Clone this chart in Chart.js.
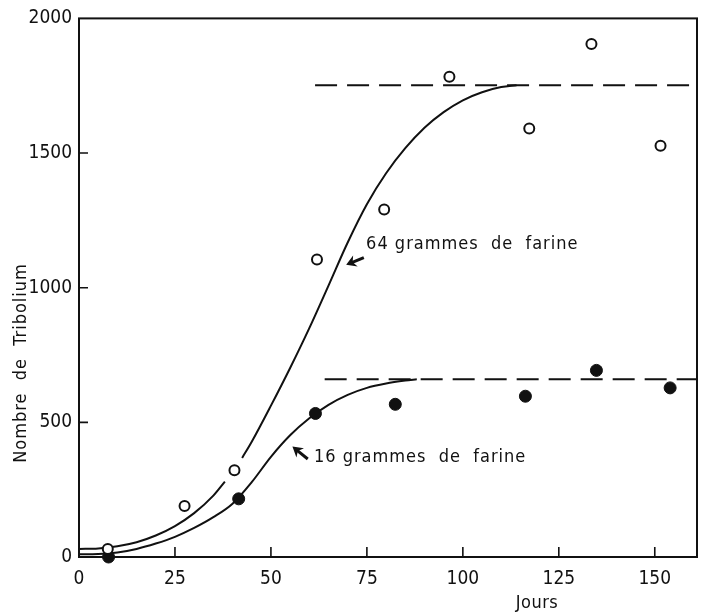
<!DOCTYPE html>
<html lang="fr">
<head>
<meta charset="UTF-8">
<title>Croissance de Tribolium</title>
<script src="https://cdn.jsdelivr.net/npm/chart.js"></script>
<style>
    body {
        margin: 0;
        background: #fff;
    }
    .container {
        width: 704px;
        height: 612px;
    }
</style>
</head>
<body>
<div class="container">
    <canvas id="triboliumChart"></canvas>
</div>
<script>
// Observations (jours, nombre d'individus)
const jours64 = [7.5, 27.5, 40.5, 62, 79.5, 96.5, 117.3, 133.5, 151.5];
const tribolium64 = [30, 189, 322, 1105, 1290, 1783, 1591, 1905, 1527];
const jours16 = [7.7, 41.6, 61.6, 82.4, 116.3, 134.8, 154];
const tribolium16 = [0, 216, 533, 567, 597, 693, 628];

// Courbes ajustées, relevées point par point (null = interruption du trait)
const courbeJours64 = [0, 5, 10, 15, 20, 25, 30, 35, 38, 40, 42.5, 45, 50, 55, 60, 65, 70, 75, 80, 85, 90, 95, 100, 105, 110, 114];
const courbe64 = [30, 32, 40, 55, 80, 115, 163, 228, 280, null, 368, 428, 562, 702, 850, 1008, 1168, 1310, 1425, 1518, 1594, 1652, 1696, 1726, 1745, 1752];
const courbeJours16 = [0, 5, 10, 15, 20, 25, 30, 35, 40, 45, 50, 55, 60, 65, 70, 75, 80, 85, 88];
const courbe16 = [10, 11, 17, 30, 50, 75, 108, 148, 198, 278, 372, 452, 515, 565, 602, 628, 644, 655, 660];

// Asymptotes (tiretés)
const plateau64 = 1752;
const plateau16 = 660;
const plateauJours64 = [61.5, 161];
const plateauJours16 = [64, 161];

const xTicks = [0, 25, 50, 75, 100, 125, 150];
const yTicks = [0, 500, 1000, 1500, 2000];

const police = '"DejaVu Sans Condensed", "Liberation Sans Narrow", "DejaVu Sans", sans-serif';
const encre = '#111';

function pts(xs, ys) {
    return xs.map((x, i) => ({ x: x, y: ys[i] }));
}

// Étiquettes fléchées : pointe de la flèche, queue, début du texte (en unités du graphique)
const etiquettes = [
    { texte: '64 grammes  de  farine', pointe: [69.6, 1085], queue: [74.2, 1112], texteA: [74.8, 1160] },
    { texte: '16 grammes  de  farine', pointe: [55.6, 410], queue: [59.6, 364], texteA: [61.2, 370] }
];

const cadre = {
    id: 'cadre',
    afterDraw(chart) {
        const ctx = chart.ctx;
        const a = chart.chartArea;
        const xs = chart.scales.x, ys = chart.scales.y;
        ctx.save();
        ctx.strokeStyle = encre;
        ctx.lineWidth = 2;
        ctx.strokeRect(a.left, a.top, a.right - a.left, a.bottom - a.top);

        // graduations tournées vers l'intérieur
        ctx.lineWidth = 1.6;
        ctx.beginPath();
        xTicks.slice(1).forEach(v => {
            const px = xs.getPixelForValue(v);
            ctx.moveTo(px, a.bottom);
            ctx.lineTo(px, a.bottom - 10);
        });
        yTicks.slice(1, -1).forEach(v => {
            const py = ys.getPixelForValue(v);
            ctx.moveTo(a.left, py);
            ctx.lineTo(a.left + 9, py);
        });
        ctx.stroke();

        // flèches et textes
        ctx.fillStyle = encre;
        ctx.font = '18px ' + police;
        ctx.letterSpacing = '1px';
        ctx.textBaseline = 'middle';
        etiquettes.forEach(e => {
            const tx = xs.getPixelForValue(e.pointe[0]), ty = ys.getPixelForValue(e.pointe[1]);
            const qx = xs.getPixelForValue(e.queue[0]), qy = ys.getPixelForValue(e.queue[1]);
            const ang = Math.atan2(ty - qy, tx - qx);
            ctx.lineWidth = 3;
            ctx.beginPath();
            ctx.moveTo(qx, qy);
            ctx.lineTo(tx - 6 * Math.cos(ang), ty - 6 * Math.sin(ang));
            ctx.stroke();
            ctx.save();
            ctx.translate(tx, ty);
            ctx.rotate(ang);
            ctx.beginPath();
            ctx.moveTo(0, 0);
            ctx.lineTo(-10, -6);
            ctx.lineTo(-7, 0);
            ctx.lineTo(-10, 6);
            ctx.closePath();
            ctx.fill();
            ctx.restore();
            ctx.fillText(e.texte, xs.getPixelForValue(e.texteA[0]), ys.getPixelForValue(e.texteA[1]));
        });

        // titres des axes
        ctx.textAlign = 'center';
        ctx.letterSpacing = '0.5px';
        ctx.fillText('Jours', 537, 603);
        ctx.translate(21, 363);
        ctx.rotate(-Math.PI / 2);
        ctx.letterSpacing = '1px';
        ctx.fillText('Nombre  de  Tribolium', 0, 0);
        ctx.restore();
    }
};

new Chart(document.getElementById('triboliumChart'), {
    type: 'scatter',
    data: {
        datasets: [
            {
                data: pts(jours64, tribolium64),
                pointStyle: 'circle',
                pointRadius: 5,
                pointBorderWidth: 2,
                pointBorderColor: encre,
                pointBackgroundColor: '#fff',
                clip: false,
                order: 0
            },
            {
                data: pts(jours16, tribolium16),
                pointStyle: 'circle',
                pointRadius: 6,
                pointBorderWidth: 1,
                pointBorderColor: encre,
                pointBackgroundColor: encre,
                clip: false,
                order: 0
            },
            {
                type: 'line',
                data: pts(courbeJours64, courbe64),
                borderColor: encre,
                borderWidth: 2,
                pointRadius: 0,
                cubicInterpolationMode: 'monotone',
                spanGaps: false,
                order: 1
            },
            {
                type: 'line',
                data: pts(courbeJours16, courbe16),
                borderColor: encre,
                borderWidth: 2,
                pointRadius: 0,
                cubicInterpolationMode: 'monotone',
                order: 1
            },
            {
                type: 'line',
                data: pts(plateauJours64, [plateau64, plateau64]),
                borderColor: encre,
                borderWidth: 2,
                borderDash: [22, 10],
                pointRadius: 0,
                order: 2
            },
            {
                type: 'line',
                data: pts(plateauJours16, [plateau16, plateau16]),
                borderColor: encre,
                borderWidth: 2,
                borderDash: [22, 10],
                pointRadius: 0,
                order: 2
            }
        ]
    },
    options: {
        responsive: true,
        maintainAspectRatio: false,
        animation: false,
        layout: { padding: { left: 0, right: 3, top: 17, bottom: 0 } },
        plugins: {
            legend: { display: false },
            tooltip: { enabled: false }
        },
        scales: {
            x: {
                type: 'linear',
                min: 0,
                max: 161,
                afterBuildTicks: s => { s.ticks = xTicks.map(v => ({ value: v })); },
                afterFit: s => { s.height = 55; },
                ticks: {
                    color: encre,
                    font: { size: 19, family: police },
                    padding: 11,
                    maxRotation: 0,
                    callback: v => String(v)
                },
                grid: { display: false, drawTicks: false },
                border: { display: false }
            },
            y: {
                min: 0,
                max: 2000,
                afterBuildTicks: s => { s.ticks = yTicks.map(v => ({ value: v })); },
                afterFit: s => { s.width = 79; },
                ticks: {
                    color: encre,
                    font: { size: 19, family: police },
                    padding: 7,
                    callback: v => String(v)
                },
                grid: { display: false, drawTicks: false },
                border: { display: false }
            }
        }
    },
    plugins: [cadre]
});
</script>
</body>
</html>
